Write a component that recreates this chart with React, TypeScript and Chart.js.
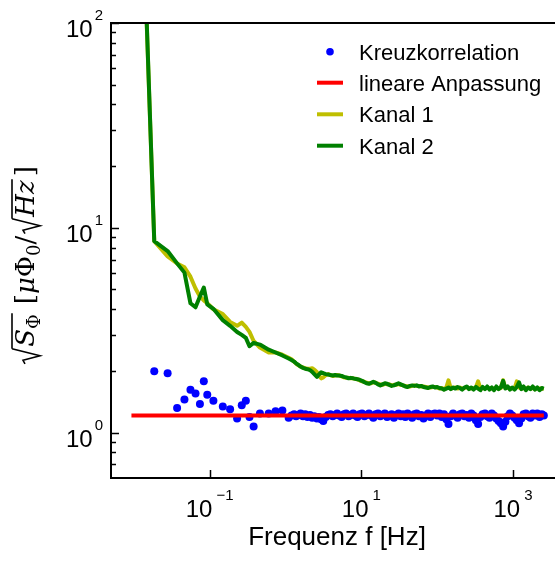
import React, { useEffect, useRef } from 'react';
import { Chart, registerables } from 'chart.js';

Chart.register(...registerables);

// Frequencies [Hz]
const FREQ = [
  0.0093, 0.0186, 0.0279, 0.0372, 0.0465, 0.0558, 0.0651, 0.0744, 0.0837, 0.093,
  0.112, 0.149, 0.186, 0.23, 0.265, 0.3, 0.335, 0.38, 0.46, 0.6, 0.74, 0.91, 1.1,
  1.2, 1.3, 1.38, 1.48, 1.58, 1.7, 1.82, 1.95, 2.1, 2.25, 2.4, 2.6, 2.75, 2.95, 3.15, 3.4, 3.65, 3.9, 4.2, 4.5,
  4.8, 5.1, 5.5, 5.9, 6.3, 6.8, 7.2, 7.8, 8.3, 8.9, 9.5,
  10.2, 11, 11.7, 12.6, 13.5, 14.4, 15.5, 16.6, 17.8, 19, 20.4, 21.9, 23.4, 25.1, 26.9, 28.8, 30.9,
  33.1, 35.5, 38, 40.7, 43.7, 46.8, 50.1, 53.7, 57.5, 61.7, 66.1, 70.8, 75.9, 81.3, 87.1, 93.3,
  100, 107, 115, 123, 132, 141, 151, 162, 174, 186, 200, 214, 229, 245, 263, 282, 302,
  324, 347, 372, 398, 427, 457, 490, 525, 562, 603, 646, 692, 741, 794, 851, 912, 977,
  1047, 1122, 1202, 1288, 1380, 1479, 1585, 1698, 1820, 1950, 2089, 2239, 2400, 2550,
];

const KREUZ = [
  null, 1.99, 1.95, 1.32, 1.45, 1.62, 1.55, 1.38, 1.78, 1.53,
  1.43, 1.34, 1.3, 1.17, 1.36, 1.43, 1.19, 1.07, 1.24, 1.24, 1.27, 1.28, 1.18,
  1.21, 1.23, 1.2, 1.22, 1.24, 1.2, 1.23, 1.19, 1.22, 1.18, 1.2, 1.17, 1.19, 1.16, 1.14, 1.19, 1.22, 1.23, 1.2, 1.22,
  1.24, 1.21, 1.19, 1.23, 1.24, 1.2, 1.22, 1.24, 1.21, 1.19, 1.23,
  1.24, 1.2, 1.22, 1.24, 1.21, 1.18, 1.23, 1.24, 1.2, 1.22, 1.24, 1.19, 1.21, 1.23, 1.18, 1.22, 1.24,
  1.2, 1.23, 1.19, 1.24, 1.21, 1.18, 1.23, 1.24, 1.2, 1.22, 1.17, 1.21, 1.24, 1.19, 1.23, 1.24,
  1.21, 1.24, 1.19, 1.23, 1.16, 1.1, 1.2, 1.24, 1.21, 1.18, 1.23, 1.24, 1.2, 1.22, 1.18, 1.24, 1.21,
  1.15, 1.1, 1.19, 1.23, 1.24, 1.2, 1.18, 1.24, 1.21, 1.17, 1.14, 1.11, 1.07, 1.13, 1.2, 1.24, 1.21,
  1.18, 1.15, 1.11, 1.17, 1.23, 1.24, 1.2, 1.18, 1.24, 1.21, 1.24, 1.19, 1.23, 1.21,
];

const KANAL1 = [
  14000, 8.61, 7.25, 6.7, 6.41, 5.77, 5.05, 4.62, 4.42, 4.28,
  4.0, 3.79, 3.47, 3.32, 3.44, 3.28, 3.1, 2.8, 2.6, 2.46, 2.46, 2.4, 2.32,
  2.28, 2.22, 2.17, 2.13, 2.1, 2.08, 2.06, 2.05, 2.05, 2.06, 2.03, 1.97, 1.9, 1.84, 1.86, 1.91, 1.93, 1.91, 1.89, 1.9,
  1.91, 1.9, 1.88, 1.86, 1.85, 1.85, 1.84, 1.84, 1.83, 1.82, 1.8,
  1.78, 1.77, 1.75, 1.74, 1.74, 1.76, 1.75, 1.73, 1.72, 1.71, 1.73, 1.72, 1.72, 1.7, 1.71, 1.71, 1.73,
  1.71, 1.7, 1.69, 1.68, 1.68, 1.69, 1.7, 1.69, 1.69, 1.68, 1.68, 1.67, 1.66, 1.66, 1.67, 1.67,
  1.66, 1.64, 1.65, 1.63, 1.66, 1.8, 1.64, 1.65, 1.66, 1.64, 1.66, 1.64, 1.65, 1.67, 1.64, 1.65, 1.64,
  1.66, 1.78, 1.64, 1.65, 1.64, 1.66, 1.64, 1.65, 1.63, 1.66, 1.64, 1.65, 1.8, 1.65, 1.66, 1.64, 1.65,
  1.64, 1.78, 1.66, 1.64, 1.65, 1.63, 1.66, 1.64, 1.65, 1.63, 1.65, 1.64, 1.64, 1.63,
];

const KANAL2 = [
  15000, 8.61, 7.7, 6.7, 6.04, 4.28, 4.09, 4.62, 5.11, 4.23,
  4.02, 3.54, 3.32, 3.1, 3.0, 2.9, 2.64, 2.74, 2.69, 2.54, 2.46, 2.38, 2.3,
  2.26, 2.22, 2.18, 2.14, 2.1, 2.07, 2.05, 2.04, 2.02, 1.98, 1.93, 1.87, 1.92, 1.97, 1.95, 1.93, 1.92, 1.91, 1.9, 1.91,
  1.9, 1.9, 1.89, 1.87, 1.86, 1.84, 1.85, 1.84, 1.83, 1.82, 1.81,
  1.79, 1.76, 1.74, 1.73, 1.75, 1.77, 1.75, 1.72, 1.7, 1.72, 1.74, 1.73, 1.71, 1.69, 1.7, 1.72, 1.74,
  1.72, 1.7, 1.68, 1.67, 1.69, 1.7, 1.69, 1.7, 1.68, 1.69, 1.67, 1.66, 1.65, 1.67, 1.68, 1.66,
  1.67, 1.65, 1.64, 1.62, 1.64, 1.66, 1.63, 1.66, 1.64, 1.67, 1.65, 1.62, 1.66, 1.68, 1.63, 1.66, 1.62,
  1.67, 1.64, 1.61, 1.67, 1.63, 1.68, 1.62, 1.66, 1.61, 1.68, 1.63, 1.66, 1.79, 1.64, 1.68, 1.62, 1.66,
  1.62, 1.67, 1.76, 1.63, 1.68, 1.61, 1.66, 1.63, 1.68, 1.62, 1.66, 1.61, 1.65, 1.64,
];

const FIT_FREQ = [0.0093, 2550];
const FIT_VALUES = [1.21, 1.21];

const X_MAJOR = [0.1, 10, 1000];
const X_LABEL_EXP = ['\u22121', '1', '3'];
const Y_MAJOR = [1, 10, 100];
const Y_LABEL_EXP = ['0', '1', '2'];
const Y_MINOR = [0.7, 0.8, 0.9, 2, 3, 4, 5, 6, 7, 8, 9, 20, 30, 40, 50, 60, 70, 80, 90];
const X_RANGE = [0.005, 5000];
const Y_RANGE = [0.64, 100];

const LEGEND_LABELS = ['Kreuzkorrelation', 'lineare Anpassung', 'Kanal 1', 'Kanal 2'];
const X_TITLE = 'Frequenz f [Hz]';

const BLUE = '#0000ff';
const RED = '#ff0000';
const YELLOW = '#bfbf00';
const GREEN = '#008000';

const SANS = '"Liberation Sans", Arial, sans-serif';
const SERIF = '"DejaVu Serif", "Liberation Serif", serif';

function drawPower(ctx: CanvasRenderingContext2D, exp: string, x: number, y: number, mode: 'right' | 'center') {
  const baseFont = `24px ${SANS}`;
  const expFont = `15px ${SANS}`;
  ctx.font = baseFont;
  const wb = ctx.measureText('10').width;
  ctx.font = expFont;
  const we = ctx.measureText(exp).width;
  const gap = mode === 'right' ? 2 : 4;
  const total = wb + gap + we;
  const start = mode === 'right' ? x - total : x - total / 2;
  ctx.textAlign = 'left';
  ctx.textBaseline = 'alphabetic';
  ctx.fillStyle = '#000';
  ctx.font = baseFont;
  ctx.fillText('10', start, y);
  ctx.font = expFont;
  ctx.fillText(exp, start + wb + gap, y - 17);
}

function drawYTitle(ctx: CanvasRenderingContext2D, cx: number, cy: number) {
  const F = 26;
  const it = `italic ${F}px ${SERIF}`;
  const up = `${F}px ${SERIF}`;
  const sub = `18px ${SERIF}`;
  type Run = { t?: string; font?: string; dy?: number; rad?: boolean; radEnd?: boolean; sp?: number };
  const runs: Run[] = [
    { rad: true },
    { t: 'S', font: it },
    { t: '\u03A6', font: sub, dy: 6 },
    { radEnd: true },
    { sp: 10 },
    { t: '[', font: up },
    { t: '\u03BC', font: it },
    { t: '\u03A6', font: up },
    { t: '0', font: sub, dy: 6 },
    { t: '/', font: up },
    { rad: true },
    { t: 'Hz', font: it },
    { radEnd: true },
    { sp: 4 },
    { t: ']', font: up },
  ];
  const RADW = 19;
  const TOP = -22;
  let total = 0;
  for (const r of runs) {
    if (r.rad) total += RADW;
    else if (r.sp) total += r.sp;
    else if (r.t) {
      ctx.font = r.font!;
      total += ctx.measureText(r.t).width;
    }
  }
  ctx.save();
  ctx.translate(cx, cy);
  ctx.rotate(-Math.PI / 2);
  ctx.fillStyle = '#000';
  ctx.strokeStyle = '#000';
  ctx.textAlign = 'left';
  ctx.textBaseline = 'alphabetic';
  let u = -total / 2;
  let radStart = 0;
  for (const r of runs) {
    if (r.rad) {
      radStart = u;
      ctx.lineWidth = 1.6;
      ctx.lineJoin = 'miter';
      ctx.beginPath();
      ctx.moveTo(u + 2, -9);
      ctx.lineTo(u + 5.5, -11);
      ctx.lineTo(u + 10, 6);
      ctx.lineTo(u + RADW - 2, TOP);
      ctx.stroke();
      u += RADW;
    } else if (r.radEnd) {
      ctx.lineWidth = 1.6;
      ctx.beginPath();
      ctx.moveTo(radStart + RADW - 2, TOP);
      ctx.lineTo(u + 1, TOP);
      ctx.stroke();
    } else if (r.sp) {
      u += r.sp;
    } else if (r.t) {
      ctx.font = r.font!;
      ctx.fillText(r.t, u, r.dy || 0);
      u += ctx.measureText(r.t).width;
    }
  }
  ctx.restore();
}

const decorPlugin = {
  id: 'mplDecor',
  afterDatasetsDraw(chart: any) {
    const { ctx, chartArea: a, scales } = chart;
    const xs = scales.x;
    const ys = scales.y;
    ctx.save();
    ctx.strokeStyle = '#000';
    ctx.lineCap = 'butt';
    ctx.lineWidth = 1.5;
    ctx.beginPath();
    for (const v of Y_MAJOR) {
      const y = Math.round(ys.getPixelForValue(v)) + 0.5;
      ctx.moveTo(a.left, y);
      ctx.lineTo(a.left + 8, y);
    }
    for (const v of Y_MINOR) {
      const y = Math.round(ys.getPixelForValue(v)) + 0.5;
      ctx.moveTo(a.left, y);
      ctx.lineTo(a.left + 5, y);
    }
    for (const v of X_MAJOR) {
      const x = Math.round(xs.getPixelForValue(v)) + 0.5;
      ctx.moveTo(x, a.bottom);
      ctx.lineTo(x, a.bottom - 8);
    }
    ctx.stroke();
    ctx.lineWidth = 2;
    ctx.beginPath();
    ctx.moveTo(a.left - 1, a.top);
    ctx.lineTo(a.right, a.top);
    ctx.moveTo(a.left, a.top);
    ctx.lineTo(a.left, a.bottom + 1);
    ctx.moveTo(a.left - 1, a.bottom);
    ctx.lineTo(a.right, a.bottom);
    ctx.stroke();
    Y_MAJOR.forEach((v, i) => {
      const y = ys.getPixelForValue(v);
      drawPower(ctx, Y_LABEL_EXP[i], a.left - 8, y + 14, 'right');
    });
    X_MAJOR.forEach((v, i) => {
      const x = xs.getPixelForValue(v);
      drawPower(ctx, X_LABEL_EXP[i], x, a.bottom + 39, 'center');
    });
    ctx.fillStyle = '#000';
    ctx.font = `26px ${SANS}`;
    ctx.textAlign = 'center';
    ctx.textBaseline = 'alphabetic';
    ctx.fillText(X_TITLE, 337, 545);
    drawYTitle(ctx, 34, 266);
    const rows = [51.7, 82.7, 114.3, 145.7];
    const cols = [BLUE, RED, YELLOW, GREEN];
    rows.forEach((ry, i) => {
      if (i === 0) {
        ctx.fillStyle = cols[i];
        ctx.beginPath();
        ctx.arc(330, ry, 3.8, 0, Math.PI * 2);
        ctx.fill();
      } else {
        ctx.strokeStyle = cols[i];
        ctx.lineWidth = 4;
        ctx.beginPath();
        ctx.moveTo(317, ry);
        ctx.lineTo(343, ry);
        ctx.stroke();
      }
      ctx.fillStyle = '#000';
      ctx.font = `22px ${SANS}`;
      ctx.textAlign = 'left';
      ctx.fillText(LEGEND_LABELS[i], 359, ry + 8);
    });
    ctx.restore();
  },
};

export default function App() {
  const ref = useRef<HTMLCanvasElement | null>(null);
  useEffect(() => {
    if (!ref.current) return;
    const pts = (ys: (number | null)[], xs: number[] = FREQ) => xs.map((x, i) => ({ x, y: ys[i] }));
    const chart = new Chart(ref.current, {
      type: 'line',
      data: {
        datasets: [
          {
            label: LEGEND_LABELS[0],
            data: pts(KREUZ) as any,
            showLine: false,
            pointRadius: 4,
            pointBorderWidth: 0,
            pointBackgroundColor: BLUE,
            borderColor: BLUE,
            order: 4,
          },
          {
            label: LEGEND_LABELS[1],
            data: pts(FIT_VALUES, FIT_FREQ) as any,
            borderColor: RED,
            borderWidth: 4,
            pointRadius: 0,
            order: 3,
          },
          {
            label: LEGEND_LABELS[2],
            data: pts(KANAL1) as any,
            borderColor: YELLOW,
            borderWidth: 4,
            pointRadius: 0,
            borderJoinStyle: 'round',
            tension: 0,
            clip: 0,
            order: 2,
          },
          {
            label: LEGEND_LABELS[3],
            data: pts(KANAL2) as any,
            borderColor: GREEN,
            borderWidth: 4,
            pointRadius: 0,
            borderJoinStyle: 'round',
            tension: 0,
            clip: 0,
            order: 1,
          },
        ],
      },
      options: {
        animation: false,
        responsive: false,
        devicePixelRatio: 1,
        layout: { padding: { top: 23, right: 4, left: 0, bottom: 0 } },
        plugins: { legend: { display: false }, tooltip: { enabled: false } },
        scales: {
          x: {
            type: 'logarithmic',
            min: X_RANGE[0],
            max: X_RANGE[1],
            ticks: { display: false },
            grid: { display: false },
            border: { display: false },
            afterFit: (s: any) => { s.height = 87; },
          },
          y: {
            type: 'logarithmic',
            min: Y_RANGE[0],
            max: Y_RANGE[1],
            ticks: { display: false },
            grid: { display: false },
            border: { display: false },
            afterFit: (s: any) => { s.width = 111; },
          },
        },
      },
      plugins: [decorPlugin],
    } as any);
    return () => chart.destroy();
  }, []);
  return (
    <div style={{ position: 'fixed', left: 0, top: 0, width: 555, height: 565, overflow: 'hidden', background: '#fff' }}>
      <canvas ref={ref} width={570} height={565} style={{ width: 570, height: 565, display: 'block' }} />
    </div>
  );
}
